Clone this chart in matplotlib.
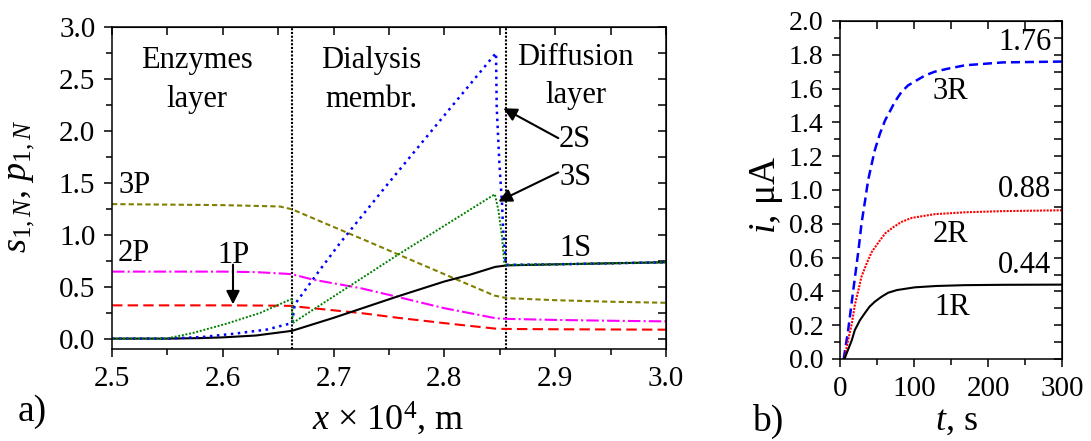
import matplotlib
matplotlib.use("Agg")
import matplotlib.pyplot as plt
from matplotlib.ticker import MultipleLocator, FormatStrFormatter, NullFormatter

plt.rcParams["font.family"] = ["Liberation Serif", "DejaVu Serif"]
plt.rcParams["mathtext.fontset"] = "custom"
plt.rcParams["mathtext.rm"] = "Liberation Serif"
plt.rcParams["mathtext.it"] = "Liberation Serif:italic"
plt.rcParams["mathtext.bf"] = "Liberation Serif:bold"

# ---------------- concentration profiles (x in 1e-4 m) ----------------
layer_bounds = [2.6625, 2.856]

x_1S = [2.50, 2.55, 2.58, 2.60, 2.63, 2.6625, 2.70, 2.758, 2.80, 2.823, 2.8457, 2.856, 2.90, 2.95, 3.00]
s_1S = [0.0, 0.0, 0.005, 0.012, 0.03, 0.075, 0.20, 0.407, 0.55, 0.615, 0.69, 0.705, 0.715, 0.725, 0.735]

x_2S = [2.50, 2.55, 2.582, 2.6125, 2.6396, 2.6625, 2.665, 2.6877, 2.7058, 2.7313, 2.749, 2.80,
        2.8466, 2.8472, 2.8496, 2.852, 2.853, 2.8555, 2.90, 2.95, 3.00]
s_2S = [0.0, 0.0, 0.016, 0.05, 0.087, 0.15, 0.33, 0.663, 0.92, 1.256, 1.49, 2.15,
        2.75, 2.23, 1.69, 1.30, 1.05, 0.71, 0.715, 0.725, 0.735]

x_3S = [2.50, 2.549, 2.5733, 2.6035, 2.6336, 2.6606, 2.6625, 2.6630, 2.7584, 2.8455,
        2.8487, 2.852, 2.854, 2.8555, 2.90, 2.95, 3.00]
s_3S = [0.0, 0.0, 0.055, 0.144, 0.247, 0.375, 0.38, 0.15, 0.81, 1.39,
        1.24, 0.98, 0.73, 0.71, 0.715, 0.725, 0.735]

x_1P = [2.50, 2.60, 2.64, 2.6625, 2.6697, 2.7238, 2.7584, 2.799, 2.847, 2.856, 2.90, 2.95, 3.00]
p_1P = [0.32, 0.32, 0.318, 0.315, 0.305, 0.247, 0.20, 0.15, 0.095, 0.093, 0.09, 0.088, 0.086]

x_2P = [2.50, 2.60, 2.63, 2.656, 2.6625, 2.6817, 2.7238, 2.7584, 2.799, 2.847, 2.856, 2.90, 2.95, 3.00]
p_2P = [0.645, 0.645, 0.64, 0.625, 0.62, 0.567, 0.487, 0.40, 0.295, 0.195, 0.19, 0.18, 0.172, 0.166]

x_3P = [2.50, 2.60, 2.6516, 2.6625, 2.69, 2.73, 2.7584, 2.80, 2.845, 2.856, 2.90, 2.95, 3.00]
p_3P = [1.295, 1.285, 1.272, 1.245, 1.12, 0.94, 0.81, 0.62, 0.415, 0.39, 0.37, 0.355, 0.345]

# ---------------- response currents ----------------
t_3R = [5, 11, 18, 25, 29, 34, 38, 43, 47, 54, 61, 68, 74, 83, 92, 104, 115, 128, 146, 169, 220, 300]
i_3R = [0.0, 0.17, 0.41, 0.645, 0.80, 0.94, 1.058, 1.157, 1.235, 1.334, 1.413, 1.47, 1.521,
        1.58, 1.619, 1.65, 1.678, 1.70, 1.718, 1.738, 1.755, 1.76]

t_2R = [6, 11, 16, 20, 25, 29, 36, 43, 52, 61, 72, 83, 97, 128, 169, 220, 300]
i_2R = [0.0, 0.112, 0.21, 0.319, 0.41, 0.487, 0.565, 0.634, 0.69, 0.743, 0.78, 0.811, 0.835,
        0.857, 0.868, 0.875, 0.88]

t_1R = [6, 16, 20, 27, 34, 40, 47, 56, 65, 77, 101, 130, 169, 220, 300]
i_1R = [0.0, 0.112, 0.171, 0.23, 0.274, 0.31, 0.339, 0.368, 0.392, 0.408, 0.424, 0.432, 0.437,
        0.439, 0.44]

W, H = 1091, 441
fig = plt.figure(figsize=(W / 100, H / 100), dpi=100)


def fpos(px, py):
    return px / W, 1 - py / H


FS_TICK = 21
FS_TXT = 22


def style_axes(ax, xmaj, xmin, ymaj, ymin, xfmt, yfmt, yfs=FS_TICK):
    ax.xaxis.set_major_locator(MultipleLocator(xmaj))
    ax.xaxis.set_minor_locator(MultipleLocator(xmin))
    ax.yaxis.set_major_locator(MultipleLocator(ymaj))
    ax.yaxis.set_minor_locator(MultipleLocator(ymin))
    ax.xaxis.set_major_formatter(FormatStrFormatter(xfmt))
    ax.yaxis.set_major_formatter(FormatStrFormatter(yfmt))
    ax.tick_params(which="both", direction="out", top=False, right=False, width=1.1, pad=6)
    ax.tick_params(which="major", length=6)
    ax.tick_params(which="minor", length=4)
    ax.tick_params(axis="x", labelsize=FS_TICK)
    ax.tick_params(axis="y", labelsize=yfs)
    for sp in ax.spines.values():
        sp.set_linewidth(1.1)
    # mirrored inward ticks on the top and right edges
    top = ax.secondary_xaxis("top")
    top.xaxis.set_major_locator(MultipleLocator(xmaj))
    top.xaxis.set_minor_locator(MultipleLocator(xmin))
    top.xaxis.set_major_formatter(NullFormatter())
    top.tick_params(which="both", direction="in", width=1.1, labeltop=False)
    top.tick_params(which="major", length=6)
    top.tick_params(which="minor", length=6)
    right = ax.secondary_yaxis("right")
    right.yaxis.set_major_locator(MultipleLocator(ymaj))
    right.yaxis.set_minor_locator(MultipleLocator(ymin))
    right.yaxis.set_major_formatter(NullFormatter())
    right.tick_params(which="both", direction="in", width=1.1, labelright=False)
    right.tick_params(which="major", length=6)
    right.tick_params(which="minor", length=6)


# ================= panel a =================
ax = fig.add_axes([112 / W, 1 - 349 / H, 554 / W, 322 / H])
ax.set_xlim(2.5, 3.0)
ax.set_ylim(-0.1, 3.0)
style_axes(ax, 0.1, 0.05, 0.5, 0.25, "%.1f", "%.1f")

for xb in layer_bounds:
    ax.axvline(xb, color="black", lw=1.5, dashes=(1, 0.8), zorder=1)

ax.plot(x_3P, p_3P, color="#808000", lw=1.5, dashes=(2.5, 1.5))
ax.plot(x_2P, p_2P, color="#ff00ff", lw=1.5, dashes=(6, 1.5, 1, 1.5))
ax.plot(x_1P, p_1P, color="#ff0000", lw=1.5, dashes=(5, 2.5))
ax.plot(x_1S, s_1S, color="black", lw=1.5)
ax.plot(x_2S, s_2S, color="#0000ff", lw=1.8, dashes=(1, 1.8))
ax.plot(x_3S, s_3S, color="#008000", lw=1.4, dashes=(1, 0.9))

# layer names
ax.text(2.5767, 2.606, "Enzymes", fontsize=FS_TXT, ha="center", va="baseline")
ax.text(2.5767, 2.231, "layer", fontsize=FS_TXT, ha="center", va="baseline")
ax.text(2.7338, 2.606, "Dialysis", fontsize=FS_TXT, ha="center", va="baseline")
ax.text(2.7338, 2.231, "membr.", fontsize=FS_TXT, ha="center", va="baseline")
ax.text(2.9185, 2.635, "Diffusion", fontsize=FS_TXT, ha="center", va="baseline")
ax.text(2.9185, 2.269, "layer", fontsize=FS_TXT, ha="center", va="baseline")

# curve labels
ax.text(2.5208, 1.401, "3P", fontsize=FS_TXT, ha="center", va="baseline")
ax.text(2.5192, 0.743, "2P", fontsize=FS_TXT, ha="center", va="baseline")
ax.text(2.6095, 0.728, "1P", fontsize=FS_TXT, ha="center", va="baseline")
ax.text(2.918, 1.849, "2S", fontsize=FS_TXT, ha="center", va="baseline")
ax.text(2.918, 1.481, "3S", fontsize=FS_TXT, ha="center", va="baseline")
ax.text(2.918, 0.791, "1S", fontsize=FS_TXT, ha="center", va="baseline")

arrow = dict(arrowstyle="-|>", color="black", lw=1.5, mutation_scale=20, shrinkA=0, shrinkB=0)
ax.annotate("", xy=(2.6092, 0.33), xytext=(2.6092, 0.712), arrowprops=arrow)
ax.annotate("", xy=(2.8532, 2.218), xytext=(2.9028, 1.93), arrowprops=arrow)
ax.annotate("", xy=(2.8487, 1.32), xytext=(2.9028, 1.60), arrowprops=arrow)

fig.text(*fpos(25, 186), r"$s_{1,N}$, $p_{1,N}$", fontsize=26, rotation=90,
         rotation_mode="anchor", ha="center", va="baseline")
fig.text(*fpos(388, 430), r"$x$ × 10$^4$, m", fontsize=26, ha="center", va="baseline")
fig.text(*fpos(18, 421), "a)", fontsize=27, ha="left", va="baseline")

# ================= panel b =================
bx = fig.add_axes([840 / W, 1 - 359 / H, 222 / W, 338 / H])
bx.set_xlim(0, 300)
bx.set_ylim(0, 2.0)
style_axes(bx, 100, 50, 0.2, 0.1, "%d", "%.1f", yfs=20)

bx.plot(t_3R, i_3R, color="#0000ff", lw=1.8, dashes=(3.6, 2))
bx.plot(t_2R, i_2R, color="#ff0000", lw=1.5, dashes=(1, 0.6))
bx.plot(t_1R, i_1R, color="black", lw=1.5)

for t_arr, i_arr, yb in ((t_3R, i_3R, 1.826), (t_2R, i_2R, 0.959), (t_1R, i_1R, 0.506)):
    bx.text(285.5, yb, f"{i_arr[-1]:.2f}", fontsize=FS_TXT, ha="right", va="baseline")

bx.text(148.6, 1.541, "3R", fontsize=FS_TXT, ha="center", va="baseline")
bx.text(148.6, 0.690, "2R", fontsize=FS_TXT, ha="center", va="baseline")
bx.text(151.0, 0.260, "1R", fontsize=FS_TXT, ha="center", va="baseline")

fig.text(*fpos(775, 195), r"$i$, μA", fontsize=27, rotation=90,
         rotation_mode="anchor", ha="center", va="baseline")
fig.text(*fpos(956, 430), r"$t$, s", fontsize=26, ha="center", va="baseline")
fig.text(*fpos(752, 431), "b)", fontsize=27, ha="left", va="baseline")

fig.savefig("out.png", dpi=100)
